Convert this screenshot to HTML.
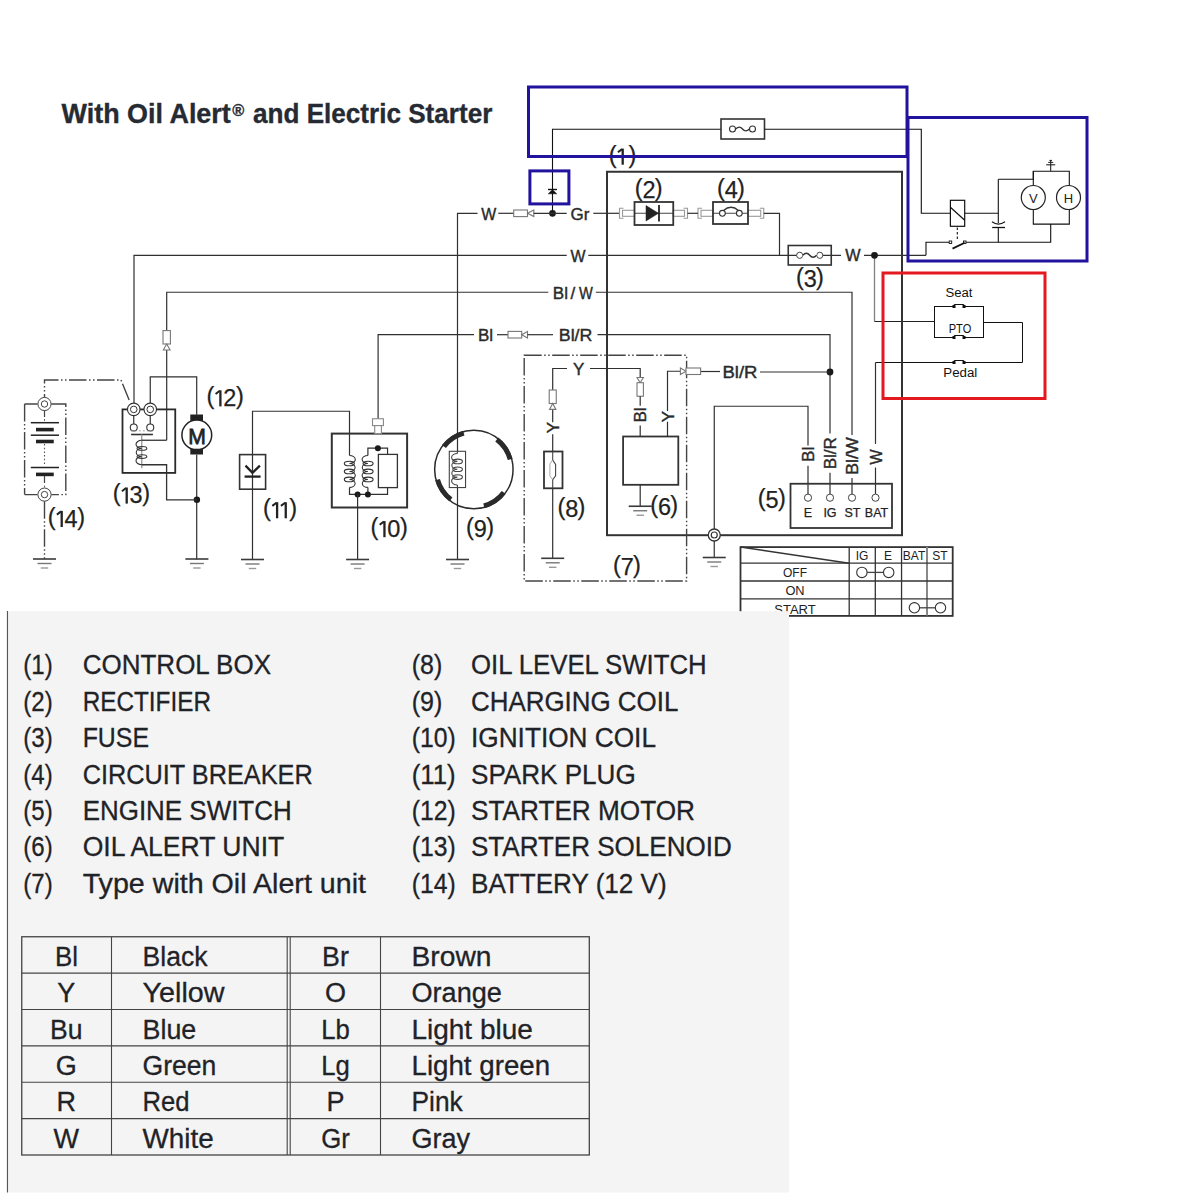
<!DOCTYPE html>
<html><head><meta charset="utf-8"><style>
html,body{margin:0;padding:0;background:#fff;width:1200px;height:1200px;overflow:hidden}
svg{display:block;font-family:"Liberation Sans",sans-serif}
</style></head><body>
<svg width="1200" height="1200" viewBox="0 0 1200 1200">
<rect width="1200" height="1200" fill="#fff"/>
<text x="61.5" y="122.7" font-size="27.5" font-weight="bold" fill="#252a33" stroke="#252a33" stroke-width="0.35" textLength="169.3" lengthAdjust="spacingAndGlyphs">With Oil Alert</text>
<text x="232.3" y="115.5" font-size="16" font-weight="bold" fill="#252a33" stroke="#252a33" stroke-width="0.35" textLength="12" lengthAdjust="spacingAndGlyphs">®</text>
<text x="253" y="122.7" font-size="27.5" font-weight="bold" fill="#252a33" stroke="#252a33" stroke-width="0.35" textLength="239.3" lengthAdjust="spacingAndGlyphs">and Electric Starter</text>
<path d="M552.5,213.3 V129.25 H721" stroke="#111" stroke-width="1.1" fill="none" />
<rect x="721" y="119" width="43.5" height="20" stroke="#333" stroke-width="1.6" fill="none" />
<circle cx="732.5" cy="129" r="3" stroke="#333" stroke-width="1.1" fill="none"/>
<circle cx="752.5" cy="129" r="3" stroke="#333" stroke-width="1.1" fill="none"/>
<path d="M735.5,129 C738.5,126.5 740.5,126.5 742.5,129 S747,131.5 749.5,129" stroke="#333" stroke-width="1.3" fill="none" />
<path d="M764.5,129.25 H921.3 V213.3 H950.4" stroke="#111" stroke-width="1.1" fill="none" />
<path d="M548,189.5 H557" stroke="#111" stroke-width="1.4" fill="none" />
<path d="M548.3,193.8 L556.7,193.8 L552.5,189.8 Z" stroke="#111" stroke-width="0.6" fill="#111" />
<circle cx="552.5" cy="213.3" r="3.4" fill="#1a1a1a"/>
<rect x="950.4" y="200.3" width="14.300000000000068" height="26.0" stroke="#111" stroke-width="1.2" fill="none" />
<line x1="950.4" y1="207.3" x2="964.7" y2="220.2" stroke="#111" stroke-width="1.2" />
<path d="M964.5,213.3 H998.3" stroke="#111" stroke-width="1.1" fill="none" />
<path d="M998.3,179.3 H1033.3 V171.3 H1069.3 V185.5" stroke="#111" stroke-width="1.1" fill="none" />
<path d="M1033.3,171.3 V185.5" stroke="#111" stroke-width="1.1" fill="none" />
<path d="M998.3,179.3 V223" stroke="#111" stroke-width="1.1" fill="none" />
<path d="M998.3,227.5 V242.2" stroke="#111" stroke-width="1.1" fill="none" />
<path d="M992,221.8 Q998.3,226.5 1005,221.8" stroke="#111" stroke-width="1.3" fill="none" />
<line x1="992.2" y1="227.5" x2="1005" y2="227.5" stroke="#111" stroke-width="1.3" />
<line x1="1050.7" y1="171.3" x2="1050.7" y2="160" stroke="#222" stroke-width="1.1" />
<line x1="1046.2" y1="164.8" x2="1055.2" y2="164.8" stroke="#222" stroke-width="1.1" />
<line x1="1048.2" y1="162.4" x2="1053.2" y2="162.4" stroke="#222" stroke-width="1" />
<line x1="1049.4" y1="160.4" x2="1052" y2="160.4" stroke="#222" stroke-width="1" />
<circle cx="1033.3" cy="197.5" r="12" stroke="#222" stroke-width="1.2" fill="none"/>
<circle cx="1068.5" cy="197.5" r="12" stroke="#222" stroke-width="1.2" fill="none"/>
<text x="1033.3" y="202.5" font-size="13" text-anchor="middle" fill="#222" font-weight="normal" >V</text>
<text x="1068.5" y="202.5" font-size="13" text-anchor="middle" fill="#222" font-weight="normal" >H</text>
<path d="M1033.3,209.5 V224.1 H1069.3 V209.5" stroke="#111" stroke-width="1.1" fill="none" />
<path d="M1050.7,224.1 V242.2 H966" stroke="#111" stroke-width="1.1" fill="none" />
<path d="M949,242.2 H926 V255.3" stroke="#111" stroke-width="1.1" fill="none" />
<rect x="949.2" y="241" width="2.5" height="2.5" stroke="#111" stroke-width="0.9" fill="#fff" />
<rect x="963.5" y="241" width="2.5" height="2.5" stroke="#111" stroke-width="0.9" fill="#fff" />
<line x1="952.5" y1="248.6" x2="964.7" y2="242.8" stroke="#111" stroke-width="1.8" />
<line x1="957.3" y1="227.5" x2="957.3" y2="241" stroke="#111" stroke-width="1.1" stroke-dasharray="2.5,2"/>
<path d="M874.5,255.3 V321.5" stroke="#808080" stroke-width="1.3" fill="none" />
<path d="M874.5,321.5 H934.5" stroke="#222" stroke-width="1.0" fill="none" />
<rect x="934.5" y="306.5" width="49.0" height="31.0" stroke="#111" stroke-width="1.0" fill="none" />
<path d="M983.5,322.5 H1022.5 V362.5 H875.5" stroke="#111" stroke-width="1.0" fill="none" />
<path d="M875.5,362.5 V443.9" stroke="#333" stroke-width="1.2" fill="none" />
<rect x="954.5" y="305.5" width="9.0" height="2.0" stroke="#fff" stroke-width="0" fill="#fff" />
<path d="M953.5,306.0 Q953.5,304.5 955.0,304.5 H963.0 Q964.5,304.5 964.5,306.0" stroke="#111" stroke-width="1.0" fill="none" />
<rect x="952.5" y="305.0" width="3.0" height="3.0" stroke="#111" stroke-width="0" fill="#111" />
<rect x="962.5" y="305.0" width="3.0" height="3.0" stroke="#111" stroke-width="0" fill="#111" />
<rect x="954.5" y="336.5" width="9.0" height="2.0" stroke="#fff" stroke-width="0" fill="#fff" />
<path d="M953.5,337.0 Q953.5,335.5 955.0,335.5 H963.0 Q964.5,335.5 964.5,337.0" stroke="#111" stroke-width="1.0" fill="none" />
<rect x="952.5" y="336.0" width="3.0" height="3.0" stroke="#111" stroke-width="0" fill="#111" />
<rect x="962.5" y="336.0" width="3.0" height="3.0" stroke="#111" stroke-width="0" fill="#111" />
<rect x="954.5" y="361.5" width="9.0" height="2.0" stroke="#fff" stroke-width="0" fill="#fff" />
<path d="M953.5,362.0 Q953.5,360.5 955.0,360.5 H963.0 Q964.5,360.5 964.5,362.0" stroke="#111" stroke-width="1.0" fill="none" />
<rect x="952.5" y="361.0" width="3.0" height="3.0" stroke="#111" stroke-width="0" fill="#111" />
<rect x="962.5" y="361.0" width="3.0" height="3.0" stroke="#111" stroke-width="0" fill="#111" />
<text x="959" y="297" font-size="12" text-anchor="middle" fill="#111" font-weight="normal" textLength="27" lengthAdjust="spacingAndGlyphs" >Seat</text>
<text x="960" y="332.8" font-size="12" text-anchor="middle" fill="#111" font-weight="normal" textLength="22.5" lengthAdjust="spacingAndGlyphs" >PTO</text>
<text x="960.3" y="376.8" font-size="12" text-anchor="middle" fill="#111" font-weight="normal" textLength="34" lengthAdjust="spacingAndGlyphs" >Pedal</text>
<rect x="607" y="171.75" width="295" height="363.45000000000005" stroke="#333" stroke-width="2" fill="none" />
<path d="M457.5,559.5 V213.3 H477.5" stroke="#303030" stroke-width="1.2" fill="none" />
<text x="488.7" y="219.7" font-size="17" text-anchor="middle" fill="#2a2a2a" font-weight="normal" textLength="15" lengthAdjust="spacingAndGlyphs"  stroke="#2a2a2a" stroke-width="0.4">W</text>
<path d="M498.3,213.3 H513.7" stroke="#303030" stroke-width="1.2" fill="none" />
<rect x="513.7" y="210.0" width="13.799999999999955" height="6.600000000000023" stroke="#777" stroke-width="1.1" fill="#fff" />
<path d="M533.8,210.0 L527.5,213.3 L533.8,216.60000000000002 Z" stroke="#777" stroke-width="1.1" fill="#fff" />
<path d="M533.8,213.3 H566.7" stroke="#303030" stroke-width="1.2" fill="none" />
<text x="580" y="219.5" font-size="17" text-anchor="middle" fill="#2a2a2a" font-weight="normal"  stroke="#2a2a2a" stroke-width="0.4">Gr</text>
<path d="M593.3,213.3 H619.5" stroke="#303030" stroke-width="1.2" fill="none" />
<rect x="619.5" y="207.3" width="15.0" height="12.0" stroke="#fff" stroke-width="0" fill="#fff" />
<path d="M623.5,208.3 H619.5 V218.3 H623.5" stroke="#999" stroke-width="1.1" fill="none" />
<rect x="622.5" y="210.3" width="12.0" height="6.0" stroke="#999" stroke-width="1.1" fill="none" />
<rect x="673.25" y="207.3" width="14.25" height="12.0" stroke="#fff" stroke-width="0" fill="#fff" />
<path d="M683.5,208.3 H687.5 V218.3 H683.5" stroke="#999" stroke-width="1.1" fill="none" />
<rect x="673.25" y="210.3" width="11.25" height="6.0" stroke="#999" stroke-width="1.1" fill="none" />
<rect x="698" y="207.3" width="15" height="12.0" stroke="#fff" stroke-width="0" fill="#fff" />
<path d="M702,208.3 H698 V218.3 H702" stroke="#999" stroke-width="1.1" fill="none" />
<rect x="701" y="210.3" width="12" height="6.0" stroke="#999" stroke-width="1.1" fill="none" />
<rect x="748" y="207.3" width="15.75" height="12.0" stroke="#fff" stroke-width="0" fill="#fff" />
<path d="M759.75,208.3 H763.75 V218.3 H759.75" stroke="#999" stroke-width="1.1" fill="none" />
<rect x="748" y="210.3" width="12.75" height="6.0" stroke="#999" stroke-width="1.1" fill="none" />
<path d="M634.5,213.3 H673.25" stroke="#444" stroke-width="1.1" fill="none" />
<path d="M687.5,213.3 H698" stroke="#303030" stroke-width="1.2" fill="none" />
<path d="M713,213.3 H748" stroke="#444" stroke-width="1.1" fill="none" />
<rect x="634.5" y="202" width="38.75" height="23" stroke="#333" stroke-width="1.8" fill="none" />
<path d="M646,205.5 L658.5,213.3 L646,221 Z" stroke="#222" stroke-width="0.5" fill="#222" />
<line x1="659" y1="205" x2="659" y2="221.5" stroke="#222" stroke-width="1.8" />
<rect x="713" y="202" width="35" height="22" stroke="#333" stroke-width="1.8" fill="none" />
<circle cx="722.4" cy="213.3" r="2.9" stroke="#333" stroke-width="1.1" fill="#fff"/>
<circle cx="739.3" cy="213.3" r="2.9" stroke="#333" stroke-width="1.1" fill="#fff"/>
<path d="M723.5,210.6 Q731,204 738.5,210.6" stroke="#333" stroke-width="1.3" fill="none" />
<path d="M763.75,213.3 H779.5 V255.3" stroke="#303030" stroke-width="1.2" fill="none" />
<path d="M134,403 V255.3 H566.7" stroke="#303030" stroke-width="1.2" fill="none" />
<text x="577.9" y="261.7" font-size="17" text-anchor="middle" fill="#2a2a2a" font-weight="normal" textLength="15" lengthAdjust="spacingAndGlyphs"  stroke="#2a2a2a" stroke-width="0.4">W</text>
<path d="M588.3,255.3 H841" stroke="#303030" stroke-width="1.2" fill="none" />
<rect x="788.25" y="245.5" width="43.0" height="19.5" stroke="#333" stroke-width="1.6" fill="none" />
<circle cx="799.7" cy="255.3" r="3.1" stroke="#444" stroke-width="1.0" fill="#fff"/>
<circle cx="819.75" cy="255.3" r="3.1" stroke="#444" stroke-width="1.0" fill="#fff"/>
<rect x="802.8" y="253" width="13.800000000000068" height="4.600000000000023" stroke="#fff" stroke-width="0" fill="#fff" />
<path d="M802.8,255.3 C805.5,252.6 807.5,252.8 809.7,255.3 S814,258 816.65,255.3" stroke="#333" stroke-width="1.5" fill="none" />
<text x="852.8" y="261.1" font-size="17" text-anchor="middle" fill="#2a2a2a" font-weight="normal" textLength="15.3" lengthAdjust="spacingAndGlyphs"  stroke="#2a2a2a" stroke-width="0.4">W</text>
<path d="M864,255.3 H926" stroke="#303030" stroke-width="1.2" fill="none" />
<circle cx="874.5" cy="255.3" r="3.4" fill="#1a1a1a"/>
<path d="M166.7,440.25 V292.25 H548.3" stroke="#303030" stroke-width="1.2" fill="none" />
<text x="552.8" y="299" font-size="17" text-anchor="start" fill="#2a2a2a" font-weight="normal"  stroke="#2a2a2a" stroke-width="0.4">Bl</text>
<text x="570.6" y="299" font-size="17" text-anchor="start" fill="#2a2a2a" font-weight="normal"  stroke="#2a2a2a" stroke-width="0.4">/</text>
<text x="578.9" y="299" font-size="17" text-anchor="start" fill="#2a2a2a" font-weight="normal" textLength="13.8" lengthAdjust="spacingAndGlyphs"  stroke="#2a2a2a" stroke-width="0.4">W</text>
<path d="M595.8,292.25 H852 V435.1" stroke="#303030" stroke-width="1.2" fill="none" />
<path d="M852,478 V494.1" stroke="#303030" stroke-width="1.2" fill="none" />
<rect x="163" y="330.6" width="7.400000000000006" height="13.399999999999977" stroke="#777" stroke-width="1.1" fill="#fff" />
<path d="M163.3,350 L166.7,344 L170.1,350 Z" stroke="#777" stroke-width="1.1" fill="#fff" />
<path d="M378.1,418.75 V334.7 H474" stroke="#303030" stroke-width="1.2" fill="none" />
<text x="485.5" y="340.9" font-size="17" text-anchor="middle" fill="#2a2a2a" font-weight="normal"  stroke="#2a2a2a" stroke-width="0.4">Bl</text>
<path d="M497,334.7 H508" stroke="#303030" stroke-width="1.2" fill="none" />
<rect x="508" y="331.4" width="13.700000000000045" height="6.600000000000023" stroke="#777" stroke-width="1.1" fill="#fff" />
<path d="M527.5,331.4 L521.7,334.7 L527.5,338.0 Z" stroke="#777" stroke-width="1.1" fill="#fff" />
<path d="M527.5,334.7 H553" stroke="#303030" stroke-width="1.2" fill="none" />
<text x="575.6" y="340.9" font-size="17" text-anchor="middle" fill="#2a2a2a" font-weight="normal" textLength="33.7" lengthAdjust="spacingAndGlyphs"  stroke="#2a2a2a" stroke-width="0.4">Bl/R</text>
<path d="M597.5,334.7 H830 V433.4" stroke="#303030" stroke-width="1.2" fill="none" />
<path d="M830,472.75 V494.1" stroke="#303030" stroke-width="1.2" fill="none" />
<circle cx="830" cy="372" r="3.4" fill="#1a1a1a"/>
<path d="M700.6,371.5 H720" stroke="#303030" stroke-width="1.2" fill="none" />
<text x="740" y="377.7" font-size="17" text-anchor="middle" fill="#2a2a2a" font-weight="normal" textLength="35" lengthAdjust="spacingAndGlyphs"  stroke="#2a2a2a" stroke-width="0.4">Bl/R</text>
<path d="M760,372 H830" stroke="#303030" stroke-width="1.2" fill="none" />
<path d="M808,445.6 V406.25 H714.25 V529" stroke="#303030" stroke-width="1.2" fill="none" />
<path d="M808,465.75 V494.1" stroke="#303030" stroke-width="1.2" fill="none" />
<path d="M875.5,467.5 V494.1" stroke="#303030" stroke-width="1.2" fill="none" />
<text transform="translate(808,454.4) rotate(-90)" x="0" y="6.1" font-size="17" text-anchor="middle" fill="#2a2a2a" stroke="#2a2a2a" stroke-width="0.4">Bl</text>
<text transform="translate(830,453.2) rotate(-90)" x="0" y="6.1" font-size="17" text-anchor="middle" fill="#2a2a2a" stroke="#2a2a2a" stroke-width="0.4">Bl/R</text>
<text transform="translate(852,456) rotate(-90)" x="0" y="6.1" font-size="17" text-anchor="middle" fill="#2a2a2a" stroke="#2a2a2a" stroke-width="0.4" textLength="37.5" lengthAdjust="spacingAndGlyphs">Bl/W</text>
<text transform="translate(875.5,457) rotate(-90)" x="0" y="6.1" font-size="17" text-anchor="middle" fill="#2a2a2a" stroke="#2a2a2a" stroke-width="0.4" textLength="15" lengthAdjust="spacingAndGlyphs">W</text>
<rect x="790.5" y="483.75" width="101.5" height="44.25" stroke="#333" stroke-width="1.8" fill="none" />
<circle cx="808" cy="497.7" r="3.6" stroke="#444" stroke-width="1" fill="#fff"/>
<circle cx="830" cy="497.7" r="3.6" stroke="#444" stroke-width="1" fill="#fff"/>
<circle cx="852" cy="497.7" r="3.6" stroke="#444" stroke-width="1" fill="#fff"/>
<circle cx="875.5" cy="497.7" r="3.6" stroke="#444" stroke-width="1" fill="#fff"/>
<text x="808" y="516.7" font-size="12.5" text-anchor="middle" fill="#222" font-weight="normal" stroke="#222" stroke-width="0.25">E</text>
<text x="830" y="516.7" font-size="12.5" text-anchor="middle" fill="#222" font-weight="normal" stroke="#222" stroke-width="0.25">IG</text>
<text x="852.5" y="516.7" font-size="12.5" text-anchor="middle" fill="#222" font-weight="normal" stroke="#222" stroke-width="0.25">ST</text>
<text x="876.5" y="516.7" font-size="12.5" text-anchor="middle" fill="#222" font-weight="normal" stroke="#222" stroke-width="0.25">BAT</text>
<text x="757.85" y="505.85" font-size="23.5" text-anchor="start" fill="#222" stroke="#222" stroke-width="0.25">(</text>
<text x="777.95" y="505.85" font-size="23.5" text-anchor="start" fill="#222" stroke="#222" stroke-width="0.25">)</text>
<text x="772.10" y="507.80" font-size="23.5" text-anchor="middle" fill="#222" stroke="#222" stroke-width="0.25">5</text>
<circle cx="714.25" cy="535" r="6" stroke="#333" stroke-width="1.3" fill="#fff"/>
<circle cx="714.25" cy="535" r="3" stroke="#333" stroke-width="1.2" fill="none"/>
<path d="M714.25,541 V557.5" stroke="#303030" stroke-width="1.2" fill="none" />
<line x1="702.75" y1="557.5" x2="725.75" y2="557.5" stroke="#3a3a3a" stroke-width="1.6" />
<line x1="707.25" y1="562.0" x2="721.25" y2="562.0" stroke="#777" stroke-width="1.4" />
<line x1="710.55" y1="566.5" x2="717.95" y2="566.5" stroke="#999" stroke-width="1.4" />
<rect x="524.2" y="355.2" width="162.39999999999998" height="225.8" stroke="#444" stroke-width="1.4" fill="none" stroke-dasharray="17.5,2.5,1.5,2.5,1.5,2.5"/>
<path d="M552.7,422.2 V368.5 H567" stroke="#303030" stroke-width="1.2" fill="none" />
<path d="M552.7,434.2 V451.5" stroke="#303030" stroke-width="1.2" fill="none" />
<path d="M552.7,488.3 V558.3" stroke="#303030" stroke-width="1.2" fill="none" />
<text x="578.75" y="374.7" font-size="17" text-anchor="middle" fill="#2a2a2a" font-weight="normal"  stroke="#2a2a2a" stroke-width="0.4">Y</text>
<path d="M590,368.5 H640.2 V377.5" stroke="#303030" stroke-width="1.2" fill="none" />
<rect x="549.2" y="390" width="7.0499999999999545" height="13.5" stroke="#777" stroke-width="1.1" fill="#fff" />
<path d="M549.5,409.4 L552.7,403.5 L555.9,409.4 Z" stroke="#777" stroke-width="1.1" fill="#fff" />
<text transform="translate(552.7,427.5) rotate(-90)" x="0" y="6.1" font-size="17" text-anchor="middle" fill="#2a2a2a" stroke="#2a2a2a" stroke-width="0.4">Y</text>
<rect x="544" y="451.5" width="18.5" height="36.80000000000001" stroke="#333" stroke-width="1.8" fill="#fff" />
<path d="M552.7,451.2 V460 L555.6,464.4 V475.9 L552.7,479.7 V488.3" stroke="#444" stroke-width="1.1" fill="none" />
<path d="M552.2,460.5 L549.9,463.9 V475.9 L552.2,479.2" stroke="#aaa" stroke-width="1" fill="none" />
<line x1="541.2" y1="558.3" x2="564.2" y2="558.3" stroke="#3a3a3a" stroke-width="1.6" />
<line x1="545.7" y1="562.8" x2="559.7" y2="562.8" stroke="#777" stroke-width="1.4" />
<line x1="549.0" y1="567.3" x2="556.4000000000001" y2="567.3" stroke="#999" stroke-width="1.4" />
<text x="557.45" y="514.75" font-size="23.5" text-anchor="start" fill="#222" stroke="#222" stroke-width="0.25">(</text>
<text x="577.55" y="514.75" font-size="23.5" text-anchor="start" fill="#222" stroke="#222" stroke-width="0.25">)</text>
<text x="571.70" y="516.70" font-size="23.5" text-anchor="middle" fill="#222" stroke="#222" stroke-width="0.25">8</text>
<path d="M637,377.5 L643.4,377.5 L640.2,382.7 Z" stroke="#777" stroke-width="1.1" fill="#fff" />
<rect x="637" y="382.7" width="6.399999999999977" height="13.550000000000011" stroke="#777" stroke-width="1.1" fill="#fff" />
<path d="M640.2,396.25 V405.8" stroke="#303030" stroke-width="1.2" fill="none" />
<text transform="translate(640.2,415) rotate(-90)" x="0" y="6.1" font-size="17" text-anchor="middle" fill="#2a2a2a" stroke="#2a2a2a" stroke-width="0.4">Bl</text>
<path d="M640.2,425.4 V436.5" stroke="#303030" stroke-width="1.2" fill="none" />
<path d="M667.5,436.5 V421.7" stroke="#303030" stroke-width="1.2" fill="none" />
<text transform="translate(667.5,416.5) rotate(-90)" x="0" y="6.1" font-size="17" text-anchor="middle" fill="#2a2a2a" stroke="#2a2a2a" stroke-width="0.4">Y</text>
<path d="M667.5,411 V371.25 H680.4" stroke="#303030" stroke-width="1.2" fill="none" />
<path d="M680.4,368 L686,371.25 L680.4,374.5 Z" stroke="#777" stroke-width="1.1" fill="#fff" />
<rect x="686" y="368" width="14.600000000000023" height="6.5" stroke="#777" stroke-width="1.1" fill="#fff" />
<rect x="623.1" y="436.5" width="55.19999999999993" height="48.30000000000001" stroke="#333" stroke-width="1.8" fill="none" />
<path d="M640.2,484.8 V506.25" stroke="#303030" stroke-width="1.2" fill="none" />
<line x1="628.7" y1="506.25" x2="651.7" y2="506.25" stroke="#3a3a3a" stroke-width="1.6" />
<line x1="633.2" y1="510.75" x2="647.2" y2="510.75" stroke="#777" stroke-width="1.4" />
<line x1="636.5" y1="515.25" x2="643.9000000000001" y2="515.25" stroke="#999" stroke-width="1.4" />
<text x="650.25" y="512.55" font-size="23.5" text-anchor="start" fill="#222" stroke="#222" stroke-width="0.25">(</text>
<text x="670.35" y="512.55" font-size="23.5" text-anchor="start" fill="#222" stroke="#222" stroke-width="0.25">)</text>
<text x="664.50" y="514.50" font-size="23.5" text-anchor="middle" fill="#222" stroke="#222" stroke-width="0.25">6</text>
<text x="612.95" y="572.75" font-size="23.5" text-anchor="start" fill="#222" stroke="#222" stroke-width="0.25">(</text>
<text x="633.05" y="572.75" font-size="23.5" text-anchor="start" fill="#222" stroke="#222" stroke-width="0.25">)</text>
<text x="627.20" y="574.70" font-size="23.5" text-anchor="middle" fill="#222" stroke="#222" stroke-width="0.25">7</text>
<circle cx="473.85" cy="469.5" r="39.2" stroke="#2a2a2a" stroke-width="1.5" fill="none"/>
<path d="M443.94,446.55 A37.7,37.7 0 0 1 463.78,433.17" stroke="#2a2a2a" stroke-width="5" fill="none" />
<path d="M496.80,439.59 A37.7,37.7 0 0 1 510.18,459.43" stroke="#2a2a2a" stroke-width="5" fill="none" />
<path d="M503.76,492.45 A37.7,37.7 0 0 1 483.92,505.83" stroke="#2a2a2a" stroke-width="5" fill="none" />
<path d="M450.90,499.41 A37.7,37.7 0 0 1 437.52,479.57" stroke="#2a2a2a" stroke-width="5" fill="none" />
<rect x="449.3" y="451.3" width="16.25" height="36.25" stroke="#444" stroke-width="1.1" fill="#fff" />
<path d="M457.4,451.3 V453.5" stroke="#444" stroke-width="1.1" fill="none" />
<path d="M457.4,453.5 A5.8,3.9375 0 0 0 457.4,461.38 A5.8,3.9375 0 0 0 457.4,469.25 A5.8,3.9375 0 0 0 457.4,477.12 A5.8,3.9375 0 0 0 457.4,485.00" stroke="#444" stroke-width="1.1" fill="none" />
<ellipse cx="457.59999999999997" cy="461.38" rx="4.8" ry="2.3" stroke="#444" stroke-width="1.1" fill="none"/>
<ellipse cx="457.59999999999997" cy="469.25" rx="4.8" ry="2.3" stroke="#444" stroke-width="1.1" fill="none"/>
<ellipse cx="457.59999999999997" cy="477.12" rx="4.8" ry="2.3" stroke="#444" stroke-width="1.1" fill="none"/>
<path d="M457.4,485 V487.55" stroke="#444" stroke-width="1.1" fill="none" />
<text x="466.05" y="535.05" font-size="23.5" text-anchor="start" fill="#222" stroke="#222" stroke-width="0.25">(</text>
<text x="486.15" y="535.05" font-size="23.5" text-anchor="start" fill="#222" stroke="#222" stroke-width="0.25">)</text>
<text x="480.30" y="537.00" font-size="23.5" text-anchor="middle" fill="#222" stroke="#222" stroke-width="0.25">9</text>
<line x1="446.0" y1="559.5" x2="469.0" y2="559.5" stroke="#3a3a3a" stroke-width="1.6" />
<line x1="450.5" y1="564.0" x2="464.5" y2="564.0" stroke="#777" stroke-width="1.4" />
<line x1="453.8" y1="568.5" x2="461.2" y2="568.5" stroke="#999" stroke-width="1.4" />
<path d="M252.5,559.5 V411.25 H349.5 V455.5" stroke="#303030" stroke-width="1.2" fill="none" />
<rect x="331.8" y="433.6" width="75.30000000000001" height="73.89999999999998" stroke="#333" stroke-width="2" fill="none" />
<path d="M349.5,455.5 A5.8,3.987499999999997 0 0 1 349.5,463.48 A5.8,3.987499999999997 0 0 1 349.5,471.45 A5.8,3.987499999999997 0 0 1 349.5,479.43 A5.8,3.987499999999997 0 0 1 349.5,487.40" stroke="#333" stroke-width="1.1" fill="none" />
<ellipse cx="349.3" cy="463.48" rx="5" ry="2.3" stroke="#333" stroke-width="1.1" fill="none"/>
<ellipse cx="349.3" cy="471.45" rx="5" ry="2.3" stroke="#333" stroke-width="1.1" fill="none"/>
<ellipse cx="349.3" cy="479.42" rx="5" ry="2.3" stroke="#333" stroke-width="1.1" fill="none"/>
<path d="M349.5,487.4 V494.4 H387.55 V487.6" stroke="#303030" stroke-width="1.2" fill="none" />
<path d="M367.9,455.5 A5.8,3.987499999999997 0 0 0 367.9,463.48 A5.8,3.987499999999997 0 0 0 367.9,471.45 A5.8,3.987499999999997 0 0 0 367.9,479.43 A5.8,3.987499999999997 0 0 0 367.9,487.40" stroke="#333" stroke-width="1.1" fill="none" />
<ellipse cx="368.09999999999997" cy="463.48" rx="5" ry="2.3" stroke="#333" stroke-width="1.1" fill="none"/>
<ellipse cx="368.09999999999997" cy="471.45" rx="5" ry="2.3" stroke="#333" stroke-width="1.1" fill="none"/>
<ellipse cx="368.09999999999997" cy="479.42" rx="5" ry="2.3" stroke="#333" stroke-width="1.1" fill="none"/>
<path d="M367.9,487.4 V494.4" stroke="#303030" stroke-width="1.2" fill="none" />
<path d="M367.9,455.5 V448.2 H387.55 V454.4" stroke="#303030" stroke-width="1.2" fill="none" />
<rect x="378.4" y="454.4" width="19.0" height="33.200000000000045" stroke="#333" stroke-width="1.3" fill="none" />
<circle cx="377.9" cy="448.2" r="3" fill="#1a1a1a"/>
<circle cx="357.6" cy="494.4" r="3" fill="#1a1a1a"/>
<circle cx="367.9" cy="494.4" r="3" fill="#1a1a1a"/>
<path d="M357.6,494.4 V559.5" stroke="#303030" stroke-width="1.2" fill="none" />
<rect x="372.5" y="418.75" width="10.899999999999977" height="6.850000000000023" stroke="#888" stroke-width="1.1" fill="#fff" />
<rect x="374.7" y="425.6" width="6.699999999999989" height="8.0" stroke="#888" stroke-width="1.1" fill="#fff" />
<line x1="346.1" y1="559.5" x2="369.1" y2="559.5" stroke="#3a3a3a" stroke-width="1.6" />
<line x1="350.6" y1="564.0" x2="364.6" y2="564.0" stroke="#777" stroke-width="1.4" />
<line x1="353.90000000000003" y1="568.5" x2="361.3" y2="568.5" stroke="#999" stroke-width="1.4" />
<text x="370.50" y="535.05" font-size="23.5" text-anchor="start" fill="#222" stroke="#222" stroke-width="0.25">(</text>
<text x="400.05" y="535.05" font-size="23.5" text-anchor="start" fill="#222" stroke="#222" stroke-width="0.25">)</text>
<path d="M384.45,521.10 V537.20" stroke="#222" stroke-width="2.3" fill="none" />
<path d="M383.85,521.60 L379.65,524.80" stroke="#222" stroke-width="2.0" fill="none" />
<text x="393.75" y="537.00" font-size="23.5" text-anchor="middle" fill="#222" stroke="#222" stroke-width="0.25">0</text>
<rect x="239.6" y="454.6" width="26.00000000000003" height="34.599999999999966" stroke="#333" stroke-width="1.6" fill="#fff" />
<path d="M252.5,455 V489.25" stroke="#303030" stroke-width="1.2" fill="none" />
<path d="M245.5,465.6 L252.5,472.8 L259.9,465.6" stroke="#222" stroke-width="2.3" fill="none" />
<line x1="244.6" y1="476.6" x2="260.6" y2="476.6" stroke="#222" stroke-width="2.3" />
<line x1="241.0" y1="559.5" x2="264.0" y2="559.5" stroke="#3a3a3a" stroke-width="1.6" />
<line x1="245.5" y1="564.0" x2="259.5" y2="564.0" stroke="#777" stroke-width="1.4" />
<line x1="248.8" y1="568.5" x2="256.2" y2="568.5" stroke="#999" stroke-width="1.4" />
<text x="262.95" y="516.15" font-size="23.5" text-anchor="start" fill="#222" stroke="#222" stroke-width="0.25">(</text>
<text x="289.20" y="516.15" font-size="23.5" text-anchor="start" fill="#222" stroke="#222" stroke-width="0.25">)</text>
<path d="M277.10,502.20 V518.30" stroke="#222" stroke-width="2.3" fill="none" />
<path d="M276.50,502.70 L272.30,505.90" stroke="#222" stroke-width="2.0" fill="none" />
<path d="M285.75,502.20 V518.30" stroke="#222" stroke-width="2.3" fill="none" />
<path d="M285.15,502.70 L280.95,505.90" stroke="#222" stroke-width="2.0" fill="none" />
<path d="M150.25,403 V376.9 H196.7 V414.8" stroke="#303030" stroke-width="1.2" fill="none" />
<rect x="190.3" y="414.5" width="12.699999999999989" height="6.699999999999989" stroke="#222" stroke-width="0" fill="#222" />
<circle cx="196.8" cy="435" r="14.9" stroke="#222" stroke-width="1.5" fill="#fff"/>
<text x="197" y="443.6" font-size="22.8" text-anchor="middle" fill="#222" font-weight="normal" textLength="17.6" lengthAdjust="spacingAndGlyphs" stroke="#222" stroke-width="0.8">M</text>
<rect x="190.3" y="448.7" width="12.699999999999989" height="5.800000000000011" stroke="#222" stroke-width="0" fill="#222" />
<path d="M196.7,454.6 V559.5" stroke="#303030" stroke-width="1.2" fill="none" />
<circle cx="196.9" cy="499.8" r="3.2" fill="#1a1a1a"/>
<line x1="185.4" y1="559" x2="208.4" y2="559" stroke="#3a3a3a" stroke-width="1.6" />
<line x1="189.9" y1="563.5" x2="203.9" y2="563.5" stroke="#777" stroke-width="1.4" />
<line x1="193.20000000000002" y1="568" x2="200.6" y2="568" stroke="#999" stroke-width="1.4" />
<text x="206.45" y="404.25" font-size="23.5" text-anchor="start" fill="#222" stroke="#222" stroke-width="0.25">(</text>
<text x="236.00" y="404.25" font-size="23.5" text-anchor="start" fill="#222" stroke="#222" stroke-width="0.25">)</text>
<path d="M220.40,390.30 V406.40" stroke="#222" stroke-width="2.3" fill="none" />
<path d="M219.80,390.80 L215.60,394.00" stroke="#222" stroke-width="2.0" fill="none" />
<text x="229.70" y="406.20" font-size="23.5" text-anchor="middle" fill="#222" stroke="#222" stroke-width="0.25">2</text>
<rect x="122.5" y="409.4" width="52.75" height="63.5" stroke="#2a2a2a" stroke-width="1.8" fill="none" />
<circle cx="133.75" cy="409.4" r="6.25" stroke="#333" stroke-width="1.1" fill="#fff"/>
<circle cx="133.75" cy="409.4" r="3.3" stroke="#333" stroke-width="1.0" fill="none"/>
<path d="M133.75,415.65 V424.2" stroke="#333" stroke-width="1.2" fill="none" />
<circle cx="133.75" cy="427.5" r="3.5" stroke="#333" stroke-width="1.1" fill="#fff"/>
<circle cx="150.25" cy="409.4" r="6.25" stroke="#333" stroke-width="1.1" fill="#fff"/>
<circle cx="150.25" cy="409.4" r="3.3" stroke="#333" stroke-width="1.0" fill="none"/>
<path d="M150.25,415.65 V424.2" stroke="#333" stroke-width="1.2" fill="none" />
<circle cx="150.25" cy="427.5" r="3.5" stroke="#333" stroke-width="1.1" fill="#fff"/>
<line x1="130.8" y1="430.8" x2="153" y2="430.8" stroke="#888" stroke-width="0.8" stroke-dasharray="2,2"/>
<line x1="131.1" y1="434.5" x2="152.9" y2="434.5" stroke="#333" stroke-width="1.6" />
<line x1="141.75" y1="434.5" x2="141.75" y2="468.3" stroke="#999" stroke-width="1.3" />
<path d="M141.75,440.25 H166.6" stroke="#333" stroke-width="1.3" fill="none" />
<path d="M141.75,464.75 H166.6 V499.8 H196.9" stroke="#333" stroke-width="1.3" fill="none" />
<path d="M141.75,440.25 A5.75,4.083333333333333 0 0 0 141.75,448.42 A5.75,4.083333333333333 0 0 0 141.75,456.58 A5.75,4.083333333333333 0 0 0 141.75,464.75" stroke="#333" stroke-width="1.1" fill="none" />
<ellipse cx="141.95" cy="448.42" rx="4.9" ry="1.9" stroke="#333" stroke-width="1.1" fill="none"/>
<ellipse cx="141.95" cy="456.58" rx="4.9" ry="1.9" stroke="#333" stroke-width="1.1" fill="none"/>
<text x="112.75" y="501.45" font-size="23.5" text-anchor="start" fill="#222" stroke="#222" stroke-width="0.25">(</text>
<text x="142.30" y="501.45" font-size="23.5" text-anchor="start" fill="#222" stroke="#222" stroke-width="0.25">)</text>
<path d="M126.70,487.50 V503.60" stroke="#222" stroke-width="2.3" fill="none" />
<path d="M126.10,488.00 L121.90,491.20" stroke="#222" stroke-width="2.0" fill="none" />
<text x="136.00" y="503.40" font-size="23.5" text-anchor="middle" fill="#222" stroke="#222" stroke-width="0.25">3</text>
<path d="M44.5,397.5 V380 H121 L129.8,401.5" stroke="#444" stroke-width="1.4" fill="none" stroke-dasharray="17.5,2.5,1.5,2.5,1.5,2.5" stroke-dashoffset="14"/>
<path d="M24.6,404 H37.5 M51.3,404 H65.8 V494.6 H51.3 M37.5,494.6 H24.6 Z" stroke="#444" stroke-width="1.4" fill="none" stroke-dasharray="17.5,2.5,1.5,2.5,1.5,2.5"/>
<path d="M24.6,404 V494.6" stroke="#444" stroke-width="1.4" fill="none" stroke-dasharray="17.5,2.5,1.5,2.5,1.5,2.5"/>
<circle cx="44.5" cy="404" r="6.6" stroke="#444" stroke-width="1.0" fill="#fff"/>
<circle cx="44.5" cy="404" r="3.2" stroke="#444" stroke-width="1.0" fill="none"/>
<circle cx="44.5" cy="494.6" r="6.6" stroke="#444" stroke-width="1.0" fill="#fff"/>
<circle cx="44.5" cy="494.6" r="3.2" stroke="#444" stroke-width="1.0" fill="none"/>
<line x1="30.8" y1="422.7" x2="59" y2="422.7" stroke="#222" stroke-width="1.5" />
<line x1="36" y1="429.6" x2="53.75" y2="429.6" stroke="#222" stroke-width="3.6" />
<line x1="30.8" y1="435.2" x2="59" y2="435.2" stroke="#222" stroke-width="1.5" />
<line x1="36" y1="441.5" x2="53.75" y2="441.5" stroke="#222" stroke-width="3.6" />
<line x1="44.5" y1="410.6" x2="44.5" y2="417" stroke="#444" stroke-width="1.2" />
<line x1="44.5" y1="419" x2="44.5" y2="421" stroke="#666" stroke-width="1" />
<line x1="44.5" y1="444" x2="44.5" y2="466" stroke="#555" stroke-width="1.1" stroke-dasharray="1.5,2.2"/>
<line x1="30.8" y1="467.5" x2="59" y2="467.5" stroke="#222" stroke-width="1.5" />
<line x1="36" y1="474.4" x2="53.75" y2="474.4" stroke="#222" stroke-width="3.6" />
<line x1="44.5" y1="476" x2="44.5" y2="483" stroke="#444" stroke-width="1.2" />
<line x1="44.5" y1="485.5" x2="44.5" y2="487.5" stroke="#666" stroke-width="1" />
<path d="M44.5,501.2 V559" stroke="#444" stroke-width="1.4" fill="none" stroke-dasharray="17.5,2.5,1.5,2.5,1.5,2.5"/>
<line x1="33.0" y1="559" x2="56.0" y2="559" stroke="#3a3a3a" stroke-width="1.6" />
<line x1="37.5" y1="563.5" x2="51.5" y2="563.5" stroke="#777" stroke-width="1.4" />
<line x1="40.8" y1="568" x2="48.2" y2="568" stroke="#999" stroke-width="1.4" />
<text x="47.75" y="524.85" font-size="23.5" text-anchor="start" fill="#222" stroke="#222" stroke-width="0.25">(</text>
<text x="77.30" y="524.85" font-size="23.5" text-anchor="start" fill="#222" stroke="#222" stroke-width="0.25">)</text>
<path d="M61.70,510.90 V527.00" stroke="#222" stroke-width="2.3" fill="none" />
<path d="M61.10,511.40 L56.90,514.60" stroke="#222" stroke-width="2.0" fill="none" />
<text x="71.00" y="526.80" font-size="23.5" text-anchor="middle" fill="#222" stroke="#222" stroke-width="0.25">4</text>
<text x="608.65" y="162.55" font-size="23.5" text-anchor="start" fill="#222" stroke="#222" stroke-width="0.25">(</text>
<text x="628.60" y="162.55" font-size="23.5" text-anchor="start" fill="#222" stroke="#222" stroke-width="0.25">)</text>
<path d="M622.70,148.60 V164.70" stroke="#222" stroke-width="2.3" fill="none" />
<path d="M622.10,149.10 L617.90,152.30" stroke="#222" stroke-width="2.0" fill="none" />
<text x="634.75" y="195.55" font-size="23.5" text-anchor="start" fill="#222" stroke="#222" stroke-width="0.25">(</text>
<text x="654.85" y="195.55" font-size="23.5" text-anchor="start" fill="#222" stroke="#222" stroke-width="0.25">)</text>
<text x="649.00" y="197.50" font-size="23.5" text-anchor="middle" fill="#222" stroke="#222" stroke-width="0.25">2</text>
<text x="716.95" y="195.55" font-size="23.5" text-anchor="start" fill="#222" stroke="#222" stroke-width="0.25">(</text>
<text x="737.05" y="195.55" font-size="23.5" text-anchor="start" fill="#222" stroke="#222" stroke-width="0.25">)</text>
<text x="731.20" y="197.50" font-size="23.5" text-anchor="middle" fill="#222" stroke="#222" stroke-width="0.25">4</text>
<text x="795.95" y="284.55" font-size="23.5" text-anchor="start" fill="#222" stroke="#222" stroke-width="0.25">(</text>
<text x="816.05" y="284.55" font-size="23.5" text-anchor="start" fill="#222" stroke="#222" stroke-width="0.25">)</text>
<text x="810.20" y="286.50" font-size="23.5" text-anchor="middle" fill="#222" stroke="#222" stroke-width="0.25">3</text>
<rect x="528.5" y="87" width="378.5" height="69.5" stroke="#22139e" stroke-width="3" fill="none" />
<rect x="529.9" y="170.9" width="39.0" height="33.0" stroke="#22139e" stroke-width="3" fill="none" />
<rect x="908" y="117.5" width="179" height="143.5" stroke="#22139e" stroke-width="3" fill="none" />
<rect x="883" y="273" width="162" height="125.5" stroke="#e3191f" stroke-width="3" fill="none" />
<rect x="740.5" y="547.1" width="212.20000000000005" height="68.79999999999995" stroke="#333" stroke-width="1.8" fill="none" />
<line x1="849.2" y1="547.1" x2="849.2" y2="615.5" stroke="#333" stroke-width="1.3" />
<line x1="875.3" y1="547.1" x2="875.3" y2="615.5" stroke="#333" stroke-width="1.3" />
<line x1="901.55" y1="547.1" x2="901.55" y2="615.5" stroke="#333" stroke-width="1.3" />
<line x1="927" y1="547.1" x2="927" y2="615.5" stroke="#888" stroke-width="2" />
<line x1="740.5" y1="563.2" x2="952.7" y2="563.2" stroke="#333" stroke-width="1.3" />
<line x1="740.5" y1="581" x2="952.7" y2="581" stroke="#333" stroke-width="1.3" />
<line x1="740.5" y1="598.8" x2="952.7" y2="598.8" stroke="#333" stroke-width="1.3" />
<line x1="740.5" y1="547.1" x2="849.2" y2="563.2" stroke="#333" stroke-width="1.5" />
<text x="862" y="560" font-size="12" text-anchor="middle" fill="#222" font-weight="normal" >IG</text>
<text x="888" y="560" font-size="12" text-anchor="middle" fill="#222" font-weight="normal" >E</text>
<text x="914" y="560" font-size="12" text-anchor="middle" fill="#222" font-weight="normal" >BAT</text>
<text x="940" y="560" font-size="12" text-anchor="middle" fill="#222" font-weight="normal" >ST</text>
<text x="795" y="577" font-size="12" text-anchor="middle" fill="#222" font-weight="normal" textLength="24" lengthAdjust="spacingAndGlyphs" >OFF</text>
<text x="795" y="595" font-size="12" text-anchor="middle" fill="#222" font-weight="normal" textLength="19.2" lengthAdjust="spacingAndGlyphs" >ON</text>
<text x="795" y="614.3" font-size="12" text-anchor="middle" fill="#222" font-weight="normal" textLength="41.5" lengthAdjust="spacingAndGlyphs" >START</text>
<line x1="861.9" y1="572.4" x2="888.7" y2="572.4" stroke="#444" stroke-width="1.3" />
<circle cx="861.9" cy="572.4" r="5.2" stroke="#333" stroke-width="1.1" fill="#fff"/>
<circle cx="888.7" cy="572.4" r="5.2" stroke="#333" stroke-width="1.1" fill="#fff"/>
<line x1="914.4" y1="607.8" x2="940.5" y2="607.8" stroke="#444" stroke-width="1.3" />
<circle cx="914.4" cy="607.8" r="5.2" stroke="#333" stroke-width="1.1" fill="#fff"/>
<circle cx="940.5" cy="607.8" r="5.2" stroke="#333" stroke-width="1.1" fill="#fff"/>
<rect x="9" y="611.2" width="780" height="581.3" fill="#f4f4f4"/>
<line x1="7.5" y1="611" x2="7.5" y2="1192.5" stroke="#555" stroke-width="1.2" />
<text x="23.3" y="674.3" font-size="27" fill="#1f2328" stroke="#1f2328" stroke-width="0.3" textLength="29.4" lengthAdjust="spacingAndGlyphs">(1)</text>
<text x="82.7" y="674.3" font-size="27" fill="#1f2328" stroke="#1f2328" stroke-width="0.3" textLength="188.3" lengthAdjust="spacingAndGlyphs">CONTROL BOX</text>
<text x="411.7" y="674.3" font-size="27" fill="#1f2328" stroke="#1f2328" stroke-width="0.3" textLength="30.6" lengthAdjust="spacingAndGlyphs">(8)</text>
<text x="471" y="674.3" font-size="27" fill="#1f2328" stroke="#1f2328" stroke-width="0.3" textLength="235.7" lengthAdjust="spacingAndGlyphs">OIL LEVEL SWITCH</text>
<text x="23.3" y="710.7" font-size="27" fill="#1f2328" stroke="#1f2328" stroke-width="0.3" textLength="29.4" lengthAdjust="spacingAndGlyphs">(2)</text>
<text x="82.7" y="710.7" font-size="27" fill="#1f2328" stroke="#1f2328" stroke-width="0.3" textLength="128.3" lengthAdjust="spacingAndGlyphs">RECTIFIER</text>
<text x="411.7" y="710.7" font-size="27" fill="#1f2328" stroke="#1f2328" stroke-width="0.3" textLength="30.6" lengthAdjust="spacingAndGlyphs">(9)</text>
<text x="471" y="710.7" font-size="27" fill="#1f2328" stroke="#1f2328" stroke-width="0.3" textLength="207.3" lengthAdjust="spacingAndGlyphs">CHARGING COIL</text>
<text x="23.3" y="747.1" font-size="27" fill="#1f2328" stroke="#1f2328" stroke-width="0.3" textLength="29.4" lengthAdjust="spacingAndGlyphs">(3)</text>
<text x="82.7" y="747.1" font-size="27" fill="#1f2328" stroke="#1f2328" stroke-width="0.3" textLength="66.3" lengthAdjust="spacingAndGlyphs">FUSE</text>
<text x="411.7" y="747.1" font-size="27" fill="#1f2328" stroke="#1f2328" stroke-width="0.3" textLength="44" lengthAdjust="spacingAndGlyphs">(10)</text>
<text x="471" y="747.1" font-size="27" fill="#1f2328" stroke="#1f2328" stroke-width="0.3" textLength="185.0" lengthAdjust="spacingAndGlyphs">IGNITION COIL</text>
<text x="23.3" y="783.5" font-size="27" fill="#1f2328" stroke="#1f2328" stroke-width="0.3" textLength="29.4" lengthAdjust="spacingAndGlyphs">(4)</text>
<text x="82.7" y="783.5" font-size="27" fill="#1f2328" stroke="#1f2328" stroke-width="0.3" textLength="230.0" lengthAdjust="spacingAndGlyphs">CIRCUIT BREAKER</text>
<text x="411.7" y="783.5" font-size="27" fill="#1f2328" stroke="#1f2328" stroke-width="0.3" textLength="44" lengthAdjust="spacingAndGlyphs">(11)</text>
<text x="471" y="783.5" font-size="27" fill="#1f2328" stroke="#1f2328" stroke-width="0.3" textLength="164.7" lengthAdjust="spacingAndGlyphs">SPARK PLUG</text>
<text x="23.3" y="819.9" font-size="27" fill="#1f2328" stroke="#1f2328" stroke-width="0.3" textLength="29.4" lengthAdjust="spacingAndGlyphs">(5)</text>
<text x="82.7" y="819.9" font-size="27" fill="#1f2328" stroke="#1f2328" stroke-width="0.3" textLength="209.0" lengthAdjust="spacingAndGlyphs">ENGINE SWITCH</text>
<text x="411.7" y="819.9" font-size="27" fill="#1f2328" stroke="#1f2328" stroke-width="0.3" textLength="44" lengthAdjust="spacingAndGlyphs">(12)</text>
<text x="471" y="819.9" font-size="27" fill="#1f2328" stroke="#1f2328" stroke-width="0.3" textLength="224.0" lengthAdjust="spacingAndGlyphs">STARTER MOTOR</text>
<text x="23.3" y="856.3" font-size="27" fill="#1f2328" stroke="#1f2328" stroke-width="0.3" textLength="29.4" lengthAdjust="spacingAndGlyphs">(6)</text>
<text x="82.7" y="856.3" font-size="27" fill="#1f2328" stroke="#1f2328" stroke-width="0.3" textLength="201.6" lengthAdjust="spacingAndGlyphs">OIL ALERT UNIT</text>
<text x="411.7" y="856.3" font-size="27" fill="#1f2328" stroke="#1f2328" stroke-width="0.3" textLength="44" lengthAdjust="spacingAndGlyphs">(13)</text>
<text x="471" y="856.3" font-size="27" fill="#1f2328" stroke="#1f2328" stroke-width="0.3" textLength="260.7" lengthAdjust="spacingAndGlyphs">STARTER SOLENOID</text>
<text x="23.3" y="892.7" font-size="27" fill="#1f2328" stroke="#1f2328" stroke-width="0.3" textLength="29.4" lengthAdjust="spacingAndGlyphs">(7)</text>
<text x="82.7" y="892.7" font-size="27" fill="#1f2328" stroke="#1f2328" stroke-width="0.3" textLength="283.3" lengthAdjust="spacingAndGlyphs">Type with Oil Alert unit</text>
<text x="411.7" y="892.7" font-size="27" fill="#1f2328" stroke="#1f2328" stroke-width="0.3" textLength="44" lengthAdjust="spacingAndGlyphs">(14)</text>
<text x="471" y="892.7" font-size="27" fill="#1f2328" stroke="#1f2328" stroke-width="0.3" textLength="195.7" lengthAdjust="spacingAndGlyphs">BATTERY (12 V)</text>
<rect x="21.75" y="936.75" width="567.55" height="218.25" stroke="#444" stroke-width="1.3" fill="none" />
<line x1="21.75" y1="973.12" x2="589.3" y2="973.12" stroke="#444" stroke-width="1.2" />
<line x1="21.75" y1="1009.49" x2="589.3" y2="1009.49" stroke="#444" stroke-width="1.2" />
<line x1="21.75" y1="1045.86" x2="589.3" y2="1045.86" stroke="#444" stroke-width="1.2" />
<line x1="21.75" y1="1082.23" x2="589.3" y2="1082.23" stroke="#444" stroke-width="1.2" />
<line x1="21.75" y1="1118.6" x2="589.3" y2="1118.6" stroke="#444" stroke-width="1.2" />
<line x1="111.5" y1="936.75" x2="111.5" y2="1155" stroke="#444" stroke-width="1.1" />
<line x1="287.2" y1="936.75" x2="287.2" y2="1155" stroke="#444" stroke-width="1.1" />
<line x1="290.2" y1="936.75" x2="290.2" y2="1155" stroke="#444" stroke-width="1.1" />
<line x1="380.5" y1="936.75" x2="380.5" y2="1155" stroke="#444" stroke-width="1.1" />
<text x="55" y="965.8" font-size="27" fill="#1f2328" stroke="#1f2328" stroke-width="0.3" textLength="23.0" lengthAdjust="spacingAndGlyphs">Bl</text>
<text x="142.5" y="965.8" font-size="27" fill="#1f2328" stroke="#1f2328" stroke-width="0.3" textLength="65.0" lengthAdjust="spacingAndGlyphs">Black</text>
<text x="322" y="965.8" font-size="27" fill="#1f2328" stroke="#1f2328" stroke-width="0.3" textLength="26.8" lengthAdjust="spacingAndGlyphs">Br</text>
<text x="411.5" y="965.8" font-size="27" fill="#1f2328" stroke="#1f2328" stroke-width="0.3" textLength="80.0" lengthAdjust="spacingAndGlyphs">Brown</text>
<text x="66.25" y="1002.1" font-size="27" fill="#1f2328" stroke="#1f2328" stroke-width="0.3" text-anchor="middle">Y</text>
<text x="142.5" y="1002.1" font-size="27" fill="#1f2328" stroke="#1f2328" stroke-width="0.3" textLength="82.0" lengthAdjust="spacingAndGlyphs">Yellow</text>
<text x="335.5" y="1002.1" font-size="27" fill="#1f2328" stroke="#1f2328" stroke-width="0.3" text-anchor="middle">O</text>
<text x="411.5" y="1002.1" font-size="27" fill="#1f2328" stroke="#1f2328" stroke-width="0.3" textLength="90.4" lengthAdjust="spacingAndGlyphs">Orange</text>
<text x="50" y="1038.5" font-size="27" fill="#1f2328" stroke="#1f2328" stroke-width="0.3" textLength="32.5" lengthAdjust="spacingAndGlyphs">Bu</text>
<text x="142.5" y="1038.5" font-size="27" fill="#1f2328" stroke="#1f2328" stroke-width="0.3" textLength="53.8" lengthAdjust="spacingAndGlyphs">Blue</text>
<text x="321.3" y="1038.5" font-size="27" fill="#1f2328" stroke="#1f2328" stroke-width="0.3" textLength="28.6" lengthAdjust="spacingAndGlyphs">Lb</text>
<text x="411.5" y="1038.5" font-size="27" fill="#1f2328" stroke="#1f2328" stroke-width="0.3" textLength="121.3" lengthAdjust="spacingAndGlyphs">Light blue</text>
<text x="66.25" y="1074.9" font-size="27" fill="#1f2328" stroke="#1f2328" stroke-width="0.3" text-anchor="middle">G</text>
<text x="142.5" y="1074.9" font-size="27" fill="#1f2328" stroke="#1f2328" stroke-width="0.3" textLength="73.8" lengthAdjust="spacingAndGlyphs">Green</text>
<text x="321.3" y="1074.9" font-size="27" fill="#1f2328" stroke="#1f2328" stroke-width="0.3" textLength="28.6" lengthAdjust="spacingAndGlyphs">Lg</text>
<text x="411.5" y="1074.9" font-size="27" fill="#1f2328" stroke="#1f2328" stroke-width="0.3" textLength="138.6" lengthAdjust="spacingAndGlyphs">Light green</text>
<text x="66.25" y="1111.2" font-size="27" fill="#1f2328" stroke="#1f2328" stroke-width="0.3" text-anchor="middle">R</text>
<text x="142.5" y="1111.2" font-size="27" fill="#1f2328" stroke="#1f2328" stroke-width="0.3" textLength="47.0" lengthAdjust="spacingAndGlyphs">Red</text>
<text x="335.5" y="1111.2" font-size="27" fill="#1f2328" stroke="#1f2328" stroke-width="0.3" text-anchor="middle">P</text>
<text x="411.5" y="1111.2" font-size="27" fill="#1f2328" stroke="#1f2328" stroke-width="0.3" textLength="51.2" lengthAdjust="spacingAndGlyphs">Pink</text>
<text x="66.25" y="1147.6" font-size="27" fill="#1f2328" stroke="#1f2328" stroke-width="0.3" text-anchor="middle">W</text>
<text x="142.5" y="1147.6" font-size="27" fill="#1f2328" stroke="#1f2328" stroke-width="0.3" textLength="71.2" lengthAdjust="spacingAndGlyphs">White</text>
<text x="321.3" y="1147.6" font-size="27" fill="#1f2328" stroke="#1f2328" stroke-width="0.3" textLength="28.6" lengthAdjust="spacingAndGlyphs">Gr</text>
<text x="411.5" y="1147.6" font-size="27" fill="#1f2328" stroke="#1f2328" stroke-width="0.3" textLength="58.6" lengthAdjust="spacingAndGlyphs">Gray</text>
</svg>
</body></html>
